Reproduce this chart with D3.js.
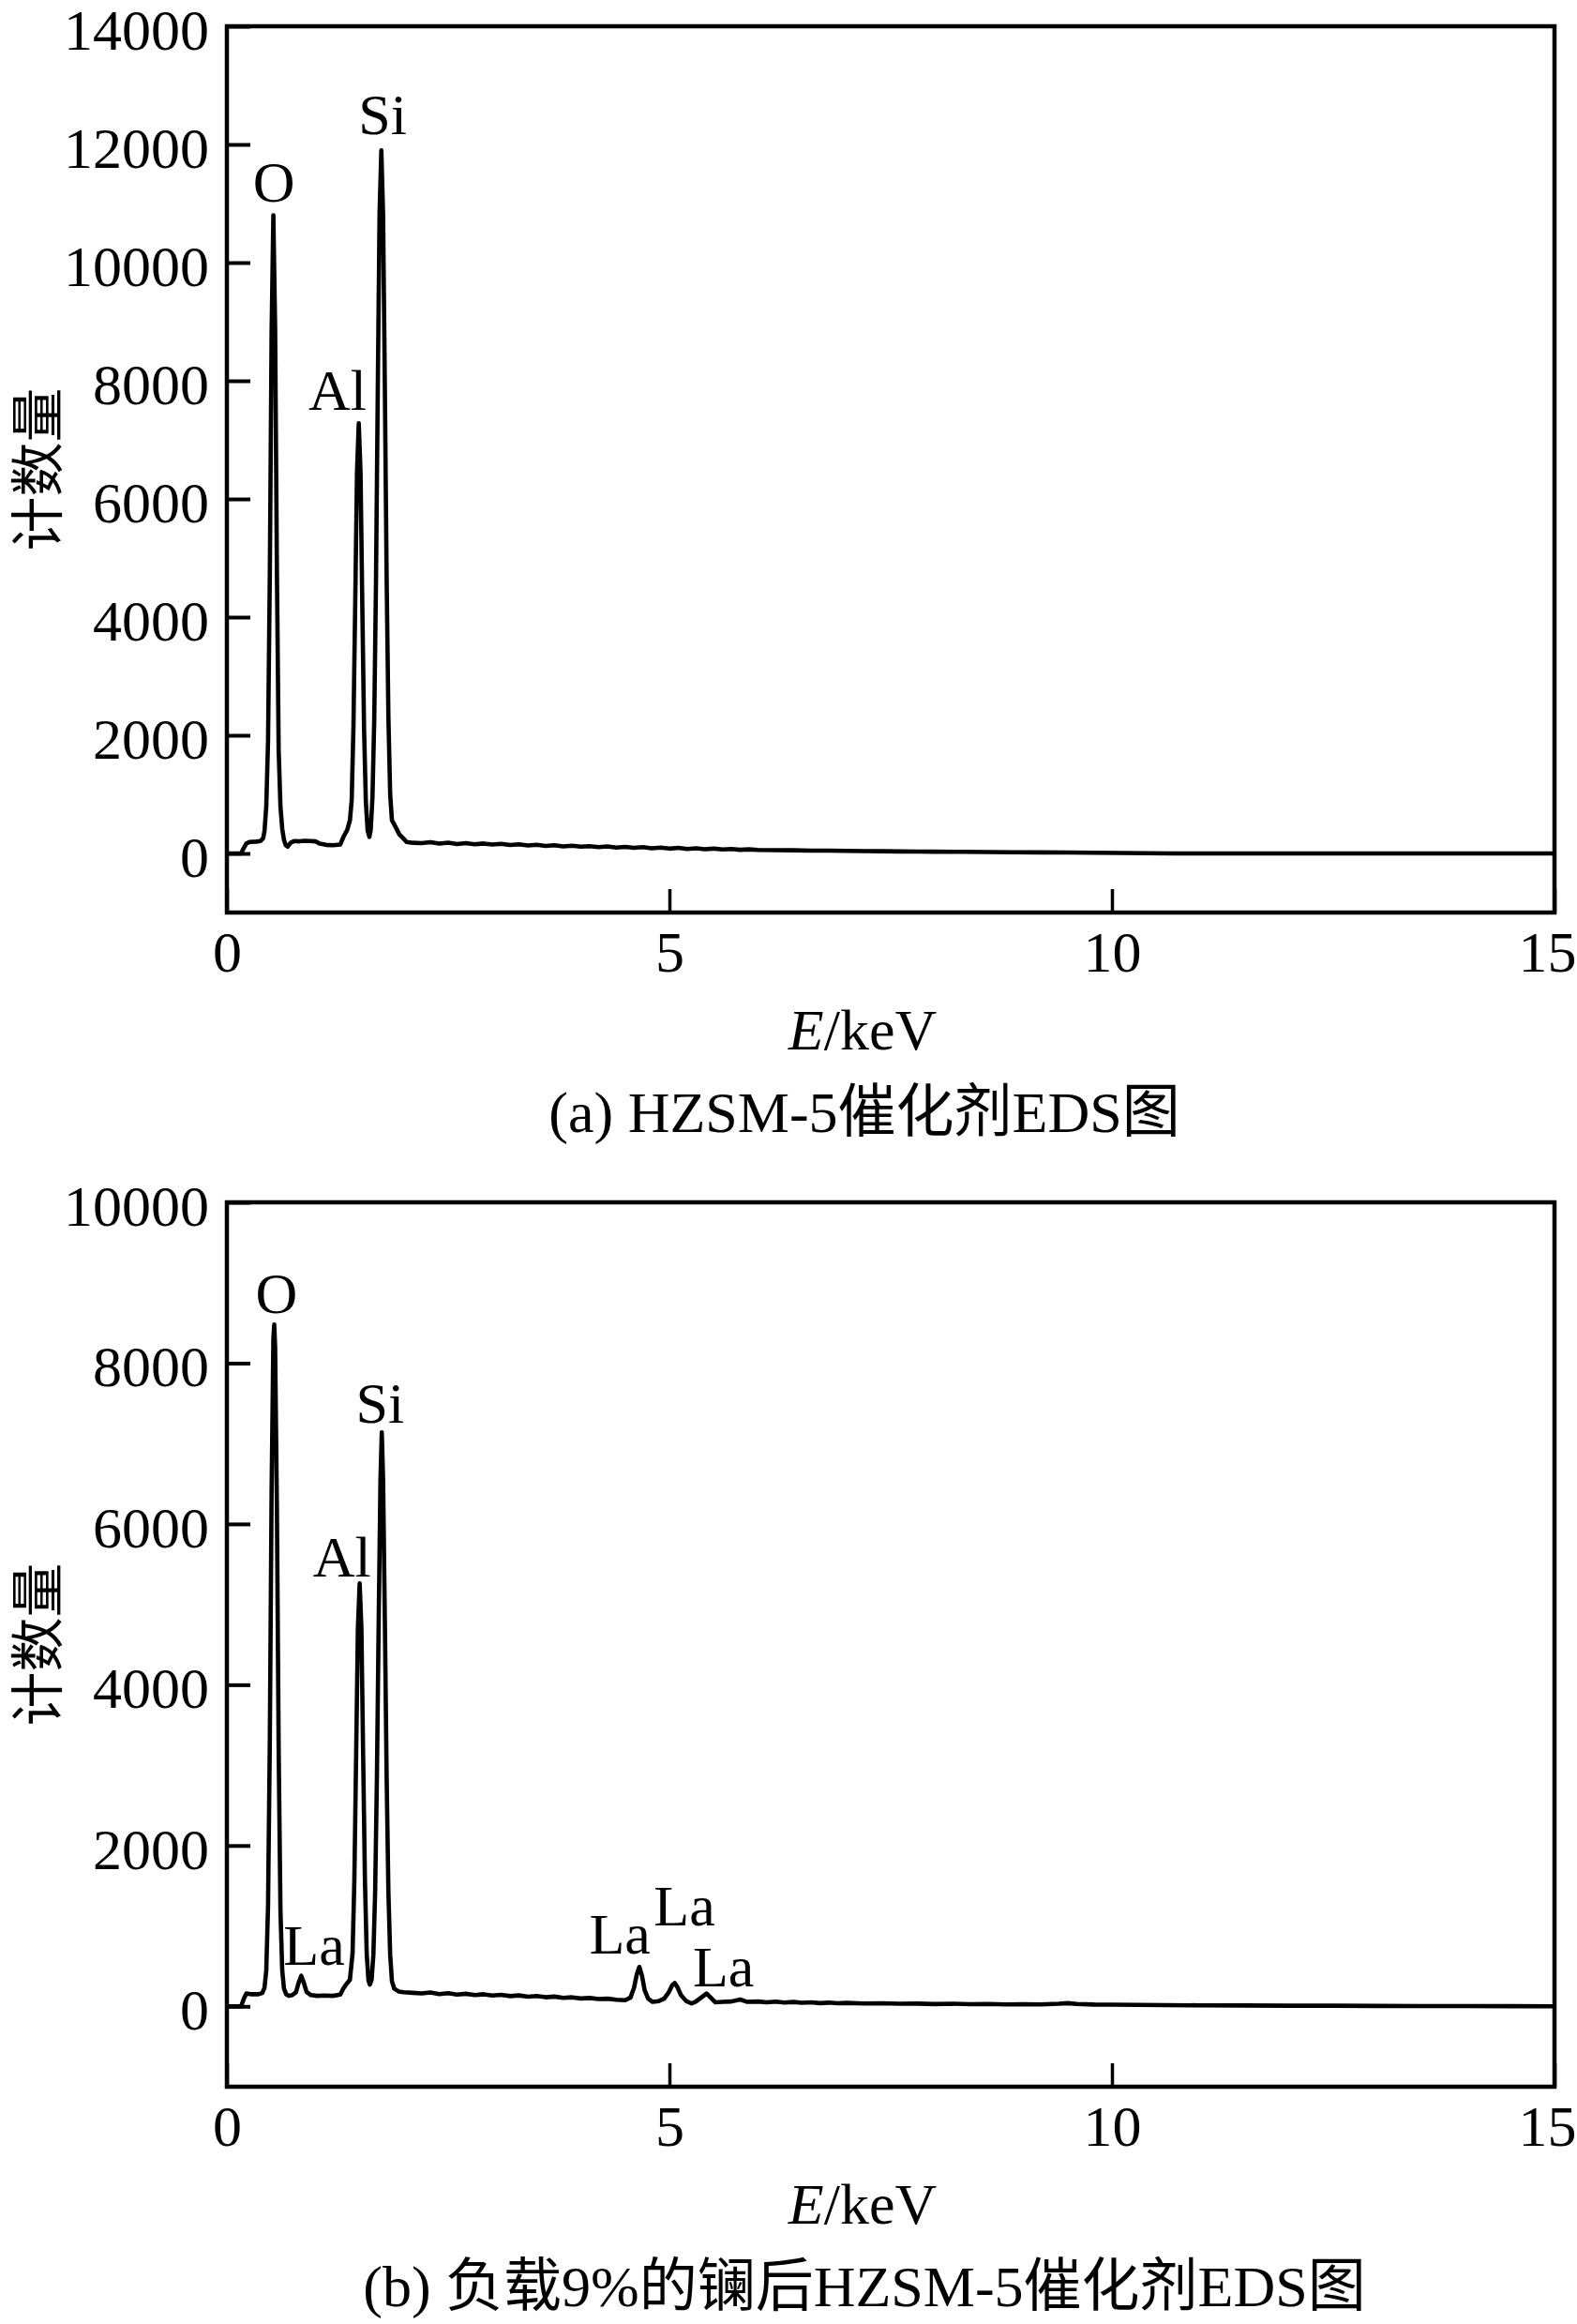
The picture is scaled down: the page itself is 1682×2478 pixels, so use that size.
<!DOCTYPE html>
<html>
<head>
<meta charset="utf-8">
<script src="https://cdn.jsdelivr.net/npm/d3@7"></script>
<style>
  body { margin: 0; background: #fff; }
  text { font-family: "Liberation Serif", "Times New Roman", "Noto Sans CJK SC", serif; fill: #000; }
</style>
</head>
<body>
<div id="chart"></div>
<script>
// tick values
var xTicks = [0, 5, 10, 15];
var yTicksA = [0, 2000, 4000, 6000, 8000, 10000, 12000, 14000];
var yTicksB = [0, 2000, 4000, 6000, 8000, 10000];

// (a) HZSM-5 spectrum
var energyA = [0.00, 0.16, 0.19, 0.22, 0.26, 0.33, 0.38, 0.41, 0.425, 0.445, 0.465, 0.485, 0.505, 0.525, 0.545, 0.565, 0.585, 0.605, 0.625, 0.645, 0.665, 0.686, 0.72, 0.76, 0.82, 0.88, 0.94, 1.00, 1.05, 1.12, 1.20, 1.28, 1.32, 1.36, 1.39, 1.41, 1.43, 1.45, 1.47, 1.49, 1.51, 1.53, 1.55, 1.57, 1.59, 1.61, 1.625, 1.645, 1.665, 1.685, 1.705, 1.725, 1.745, 1.765, 1.785, 1.805, 1.825, 1.845, 1.865, 1.905, 1.95, 1.99, 2.03, 2.1,
  2.2, 2.3, 2.4, 2.5, 2.6, 2.7, 2.8, 2.9, 3.0, 3.1, 3.2, 3.3, 3.4, 3.5, 3.6, 3.7, 3.8, 3.9, 4.0, 4.1, 4.2, 4.3, 4.4, 4.5, 4.6, 4.7, 4.8, 4.9, 5.0, 5.1, 5.2, 5.3, 5.4, 5.5, 5.6, 5.7, 5.8, 5.9, 6.0, 6.2, 6.4, 6.6, 6.8, 7.0, 7.2, 7.4, 7.6, 7.8, 8.0, 8.3, 8.6, 8.9, 9.2, 9.5, 9.8, 10.1, 10.4, 10.7, 15.0];
var countsA = [0, 0, 90, 170, 195, 200, 210, 260, 380, 800, 1900, 4700, 8800, 10800, 8900, 4800, 1750, 800, 420, 230, 140, 115, 180, 210, 205, 215, 210, 205, 165, 145, 140, 150, 290, 400, 560, 900, 2150, 4250, 6450, 7280, 6450, 4200, 2100, 880, 390, 280, 400, 960, 2280, 4650, 7900, 10850, 11900, 10800, 7850, 4650, 2300, 1000, 560, 450, 320, 260, 195, 180,
  175, 190, 168, 182, 160, 176, 155, 168, 150, 162, 142, 154, 135, 147, 128, 140, 120, 132, 114, 124, 106, 118, 100, 112, 94, 106, 88, 98, 82, 94, 76, 88, 72, 82, 68, 76, 62, 70, 60, 56, 54, 48, 47, 43, 40, 38, 34, 32, 30, 27, 24, 21, 18, 15, 12, 8, 3, 0, 0];

// (b) 9% La loaded HZSM-5 spectrum
var energyB = [0.00, 0.16, 0.19, 0.22, 0.28, 0.35, 0.40, 0.425, 0.445, 0.465, 0.485, 0.505, 0.525, 0.535, 0.545, 0.565, 0.585, 0.605, 0.625, 0.645, 0.67, 0.70, 0.74, 0.78, 0.81, 0.84, 0.87, 0.90, 0.95, 1.02, 1.10, 1.20, 1.28, 1.32, 1.36, 1.39, 1.42, 1.44, 1.46, 1.48, 1.50, 1.52, 1.54, 1.56, 1.58, 1.60, 1.615, 1.635, 1.655, 1.675, 1.695, 1.715, 1.735, 1.75, 1.765, 1.785, 1.805, 1.825, 1.845, 1.865, 1.89, 1.94, 2.0,
  2.1, 2.2, 2.3, 2.4, 2.5, 2.6, 2.7, 2.8, 2.9, 3.0, 3.1, 3.2, 3.3, 3.4, 3.5, 3.6, 3.7, 3.8, 3.9, 4.0, 4.1, 4.2, 4.3, 4.4, 4.5, 4.56, 4.60, 4.63, 4.66, 4.69, 4.72, 4.76, 4.81, 4.88, 4.94, 4.99, 5.03, 5.06, 5.09, 5.13, 5.19, 5.25, 5.30, 5.36, 5.42, 5.46, 5.52, 5.60, 5.70, 5.80, 5.88,
  6.0, 6.1, 6.2, 6.3, 6.4, 6.5, 6.6, 6.7, 6.8, 6.9, 7.0, 7.2, 7.4, 7.6, 7.8, 8.0, 8.2, 8.4, 8.6, 8.8, 9.0, 9.2, 9.4, 9.5, 9.6, 9.8, 10.0, 10.3, 10.6, 11.0, 11.5, 12.0, 12.5, 13.0, 13.5, 14.0, 14.5, 15.0];
var countsB = [0, 0, 90, 160, 150, 150, 165, 230, 450, 1250, 3300, 6400, 8300, 8480, 8200, 6200, 3200, 1200, 450, 220, 150, 130, 140, 175, 290, 380, 290, 180, 140, 130, 135, 130, 145, 230, 290, 330, 660, 1560, 3100, 4700, 5260, 4700, 3080, 1550, 650, 320, 270, 330, 640, 1420, 2850, 4780, 6550, 7140, 6550, 4780, 2850, 1420, 640, 310, 220, 185, 175,
  168, 160, 172, 152, 164, 146, 156, 140, 150, 134, 144, 127, 136, 120, 128, 113, 121, 106, 112, 98, 104, 90, 95, 82, 76, 110, 230, 390, 490, 380, 200, 95, 55, 65, 95, 170, 260, 290, 240, 140, 65, 35, 60, 110, 160, 115, 50, 55, 60, 85, 55,
  60, 50, 58, 46, 54, 44, 50, 40, 46, 38, 42, 36, 38, 32, 34, 28, 32, 26, 30, 24, 27, 24, 32, 40, 30, 22, 20, 17, 15, 12, 10, 8, 7, 5, 4, 3, 2, 0];

// peak labels, placed in data coordinates (keV, counts at text baseline)
var labelsA = ["O", "Al", "Si"];
var labelEA = [0.53, 1.25, 1.76];
var labelCA = [11030, 7510, 12175];
var labelsB = ["O", "Al", "Si", "La", "La", "La", "La"];
var labelEB = [0.56, 1.30, 1.73, 0.985, 4.44, 5.17, 5.61];
var labelCB = [8627, 5340, 7260, 516, 660, 1010, 245];

var W = 1682, H = 2478;
var left = 242, right = 1658;
var fs = 62;

var svg = d3.select("#chart").append("svg")
    .attr("width", W)
    .attr("height", H);

function drawPanel(opt) {
    var x = d3.scaleLinear().domain([0, 15]).range([left, right]);
    var y = d3.scaleLinear().domain([-1000, opt.ymax]).range([opt.bottom, opt.top]);

    var g = svg.append("g");

    // y axis, ticks pointing inward
    var ya = g.append("g")
        .attr("transform", "translate(" + left + ",0)")
        .call(d3.axisLeft(y).tickValues(opt.yTicks).tickFormat(d3.format("d"))
            .tickSize(-25).tickPadding(19).tickSizeOuter(0));
    ya.select(".domain").remove();
    ya.selectAll("line").attr("stroke", "#000").attr("stroke-width", 4);
    ya.selectAll("text").attr("font-size", fs).attr("dy", "0.39em")
        .style("font-family", "'Liberation Serif', serif");

    // x axis
    var xa = g.append("g")
        .attr("transform", "translate(0," + opt.bottom + ")")
        .call(d3.axisBottom(x).tickValues(xTicks).tickFormat(d3.format("d"))
            .tickSize(-25).tickPadding(19).tickSizeOuter(0));
    xa.select(".domain").remove();
    xa.selectAll("line").attr("stroke", "#000").attr("stroke-width", 3.5);
    xa.selectAll("text").attr("font-size", fs).attr("dy", "0.71em")
        .style("font-family", "'Liberation Serif', serif")
        .attr("dx", function(d) { return d === 15 ? -8 : 0; });

    // frame
    g.append("rect")
        .attr("x", left).attr("y", opt.top)
        .attr("width", right - left).attr("height", opt.bottom - opt.top)
        .attr("fill", "none").attr("stroke", "#000").attr("stroke-width", 4.5);

    // spectrum
    var pts = opt.energy.map(function(e, i) { return [e, opt.counts[i]]; });
    var line = d3.line()
        .x(function(d) { return x(d[0]); })
        .y(function(d) { return y(d[1]); });
    g.append("path")
        .datum(pts)
        .attr("d", line)
        .attr("fill", "none")
        .attr("stroke", "#000")
        .attr("stroke-width", 4.6)
        .attr("stroke-linejoin", "round");

    // element labels
    g.selectAll(".plabel")
        .data(opt.labels)
        .enter().append("text")
        .attr("class", "plabel")
        .attr("x", function(d, i) { return x(opt.labelE[i]); })
        .attr("y", function(d, i) { return y(opt.labelC[i]); })
        .attr("text-anchor", "middle")
        .attr("font-size", fs)
        .text(function(d) { return d; });

    // y title
    g.append("text")
        .attr("transform", "translate(36," + ((opt.top + opt.bottom) / 2) + ") rotate(-90)")
        .attr("text-anchor", "middle")
        .attr("dominant-baseline", "central")
        .attr("font-size", 58)
        .style("font-family", "'Noto Sans CJK SC', sans-serif")
        .text("计数量");

    // x title
    var xt = g.append("text")
        .attr("x", 920)
        .attr("y", opt.bottom + 146)
        .attr("text-anchor", "middle")
        .attr("font-size", fs);
    xt.append("tspan").attr("font-style", "italic").text("E");
    xt.append("tspan").text("/keV");

    // caption
    g.append("text")
        .attr("x", 922)
        .attr("y", opt.bottom + 234)
        .attr("text-anchor", "middle")
        .attr("font-size", fs)
        .text(opt.caption);
}

drawPanel({
    top: 28, bottom: 973, ymax: 14000, yTicks: yTicksA,
    energy: energyA, counts: countsA,
    labels: labelsA, labelE: labelEA, labelC: labelCA,
    caption: "(a) HZSM-5催化剂EDS图"
});

drawPanel({
    top: 1282, bottom: 2225, ymax: 10000, yTicks: yTicksB,
    energy: energyB, counts: countsB,
    labels: labelsB, labelE: labelEB, labelC: labelCB,
    caption: "(b) 负载9%的镧后HZSM-5催化剂EDS图"
});
</script>
</body>
</html>
